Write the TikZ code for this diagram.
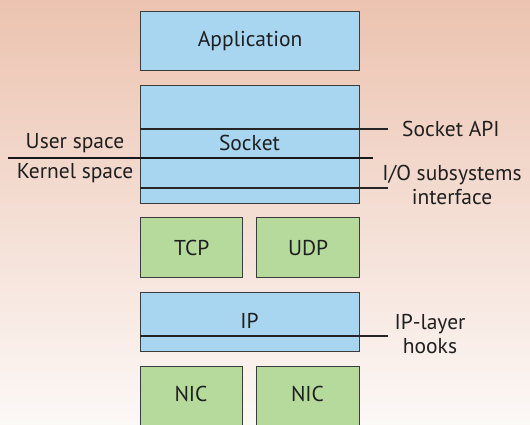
\documentclass[tikz,border=0pt]{standalone}
\usepackage{fontspec}
\setmainfont{PT Sans}
\definecolor{bgtop}{HTML}{ECC3B0}
\definecolor{bgbot}{HTML}{FCF8F6}
\definecolor{layerblue}{HTML}{A8D5F0}
\definecolor{layergreen}{HTML}{B5DA9C}
\definecolor{edge}{HTML}{3C3C3C}
\tikzset{
  layer/.style={draw=edge, line width=1.4pt, inner sep=0pt, anchor=north west},
  bluebox/.style={layer, fill=layerblue},
  greenbox/.style={layer, fill=layergreen},
  txt/.style={font=\fontsize{21.5}{24}\selectfont, text=black!88, inner sep=0pt},
  iface/.style={draw=black!85, line width=1.4pt},
  boundary/.style={draw=black!90, line width=2.6pt}
}
\begin{document}
\begin{tikzpicture}[x=1pt,y=-1pt]
  % backdrop
  \shade[top color=bgtop, bottom color=bgbot] (0,0) rectangle (530,424);
  \useasboundingbox (0,0) rectangle (530,424);

  % stack of layers
  \node[bluebox, minimum width=219pt, minimum height=59pt] (app) at (140,11) {};
  \node[txt] at (app.center) {Application};

  \node[bluebox, minimum width=219pt, minimum height=118pt] (sock) at (140,85) {};
  \node[txt] (socktxt) at (249.5,143) {Socket};

  \node[greenbox, minimum width=102pt, minimum height=60pt] (tcp) at (140,217) {};
  \node[txt] at (tcp.center) {TCP};
  \node[greenbox, minimum width=103pt, minimum height=60pt] (udp) at (256,217) {};
  \node[txt] at (udp.center) {UDP};

  \node[bluebox, minimum width=219pt, minimum height=59pt] (ip) at (140,292) {};
  \node[txt] at (249.5,321) {IP};

  \node[greenbox, minimum width=102pt, minimum height=70pt] (nic1) at (140,366) {};
  \node[txt] at (191,394) {NIC};
  \node[greenbox, minimum width=103pt, minimum height=70pt] (nic2) at (256,366) {};
  \node[txt] at (307.5,394) {NIC};

  % interface lines and their labels
  \coordinate (apiL) at (140,129);
  \coordinate (apiR) at (388,129);
  \draw[iface] (apiL) -- (apiR);
  \node[txt, anchor=west] (api) at (402,129) {Socket API};

  \coordinate (ioL) at (140,188);
  \coordinate (ioR) at (388,188);
  \draw[iface] (ioL) -- (ioR);
  \node[txt, align=center] (io) at (452,185) {I/O subsystems\\interface};

  \coordinate (hkL) at (140,336);
  \coordinate (hkR) at (388,336);
  \draw[iface] (hkL) -- (hkR);
  \node[txt, align=center] (hooks) at (430,334) {IP-layer\\hooks};

  % user / kernel boundary
  \coordinate (bL) at (8,158);
  \coordinate (bR) at (373,158);
  \draw[boundary] (bL) -- (bR);
  \node[txt] (user) at (75,143) {User space};
  \node[txt] (kernel) at (75,173) {Kernel space};
\end{tikzpicture}
\end{document}
